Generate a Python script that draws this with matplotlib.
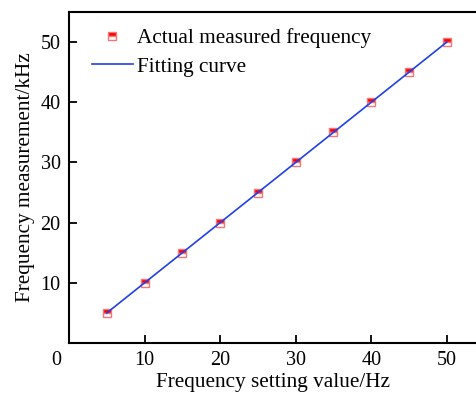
import numpy as np
import matplotlib
matplotlib.use("Agg")
from matplotlib import pyplot as plt
import matplotlib.transforms as mtransforms

# data
set_freq = [5, 10, 15, 20, 25, 30, 35, 40, 45, 50]
measured_freq = [5.0, 10.0, 15.0, 20.0, 25.0, 30.0, 35.0, 40.0, 45.0, 50.0]
fit_x = [5, 50]
fit_y = [5.0, 50.0]

x_ticks = [0, 10, 20, 30, 40, 50]
y_ticks = [10, 20, 30, 40, 50]

plt.rcParams['font.family'] = ['Liberation Serif', 'DejaVu Serif']

fig = plt.figure(figsize=(4.77, 3.94), dpi=100)
ax = fig.add_axes([0.1447, 0.1294, 0.8553, 0.8401])

ax.plot(set_freq, measured_freq, linestyle='none', marker='s', markersize=6,
        fillstyle='top', markerfacecolor='#ff0000', markerfacecoloralt='white',
        markeredgecolor='#f07878', markeredgewidth=1.0,
        label='Actual measured frequency', zorder=3)
ax.plot(fit_x, fit_y, color='#2040e8', linewidth=1.2, label='Fitting curve', zorder=4)

ax.set_xlim(0, 54)
ax.set_ylim(0, 55)
ax.set_xticks(x_ticks)
ax.set_yticks(y_ticks)

ax.tick_params(direction='in', length=6, width=1.3, labelsize=14.5, pad=6)
for s in ['left', 'bottom', 'top']:
    ax.spines[s].set_linewidth(1.5)
ax.spines['right'].set_visible(False)

# the zero label sits a bit left of the axis, as in the original
lbl0 = ax.get_xticklabels()[0]
lbl0.set_transform(lbl0.get_transform() + mtransforms.ScaledTranslation(-13 / 100, 0, fig.dpi_scale_trans))

ax.set_xlabel('Frequency setting value/Hz', fontsize=15.3, labelpad=2)
ax.set_ylabel('Frequency measurement/kHz', fontsize=15.3, labelpad=4)

ax.legend(loc='upper left', frameon=False, fontsize=15.3, handlelength=1.95,
          handletextpad=0.2, borderaxespad=0.0, borderpad=0.3, labelspacing=0.4,
          bbox_to_anchor=(0.04, 0.97))

fig.savefig('out.png', dpi=100)
